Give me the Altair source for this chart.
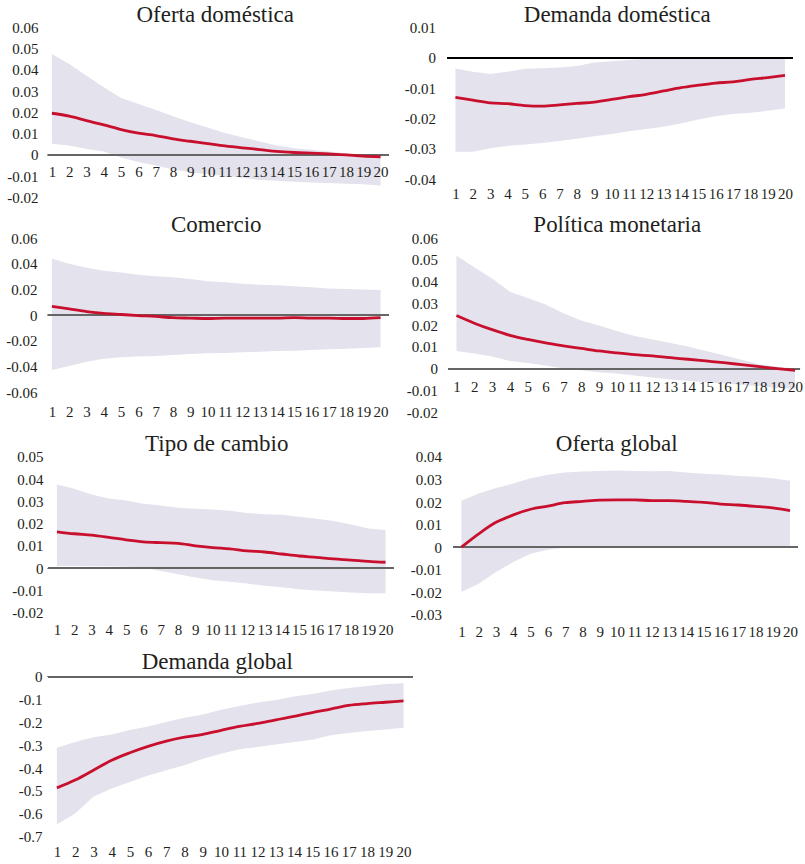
import altair as alt
import pandas as pd

periods = list(range(1, 21))

# Oferta doméstica
od_mid = [0.0196, 0.0182, 0.0161, 0.0141, 0.0119, 0.0102, 0.0091, 0.0075, 0.0064, 0.0053,
          0.0042, 0.0033, 0.0025, 0.0016, 0.0011, 0.0008, 0.0005, 0.0000, -0.0006, -0.0009]
od_up = [0.0475, 0.0428, 0.0373, 0.0318, 0.0268, 0.0240, 0.0212, 0.0182, 0.0154, 0.0129,
         0.0103, 0.0083, 0.0063, 0.0044, 0.0031, 0.0024, 0.0016, 0.0008, 0.0000, -0.0006]
od_low = [0.0052, 0.0044, 0.0028, 0.0016, -0.0013, -0.0034, -0.0050, -0.0069, -0.0082, -0.0091,
          -0.0100, -0.0108, -0.0118, -0.0122, -0.0127, -0.0130, -0.0133, -0.0136, -0.0139, -0.0144]

# Demanda doméstica
dd_mid = [-0.0130, -0.0139, -0.0148, -0.0151, -0.0157, -0.0159, -0.0155, -0.0150, -0.0146, -0.0137,
          -0.0128, -0.0120, -0.0109, -0.0098, -0.0090, -0.0083, -0.0079, -0.0071, -0.0065, -0.0058]
dd_up = [-0.0035, -0.0046, -0.0053, -0.0046, -0.0036, -0.0034, -0.0032, -0.0027, -0.0015, -0.0011,
         -0.0007, -0.0003, -0.0002, -0.0001, -0.0001, -0.0001, -0.0001, -0.0001, -0.0001, -0.0001]
dd_low = [-0.0309, -0.0309, -0.0298, -0.0290, -0.0285, -0.0280, -0.0274, -0.0266, -0.0258, -0.0251,
          -0.0242, -0.0234, -0.0227, -0.0216, -0.0203, -0.0192, -0.0185, -0.0181, -0.0174, -0.0167]

# Comercio
co_mid = [0.0069, 0.0049, 0.0028, 0.0013, 0.0005, -0.0003, -0.0010, -0.0020, -0.0023, -0.0026,
          -0.0023, -0.0023, -0.0023, -0.0023, -0.0020, -0.0023, -0.0023, -0.0026, -0.0026, -0.0020]
co_up = [0.0440, 0.0400, 0.0370, 0.0346, 0.0333, 0.0315, 0.0303, 0.0295, 0.0282, 0.0264,
         0.0256, 0.0244, 0.0238, 0.0233, 0.0226, 0.0218, 0.0208, 0.0203, 0.0200, 0.0197]
co_low = [-0.0428, -0.0397, -0.0364, -0.0341, -0.0328, -0.0323, -0.0318, -0.0310, -0.0303, -0.0297,
          -0.0295, -0.0290, -0.0285, -0.0280, -0.0277, -0.0272, -0.0267, -0.0262, -0.0256, -0.0251]

# Política monetaria
pm_mid = [0.0244, 0.0209, 0.0179, 0.0153, 0.0134, 0.0118, 0.0105, 0.0093, 0.0081, 0.0072,
          0.0064, 0.0058, 0.0050, 0.0043, 0.0035, 0.0027, 0.0018, 0.0009, 0.0000, -0.0008]
pm_up = [0.0519, 0.0466, 0.0415, 0.0354, 0.0325, 0.0295, 0.0255, 0.0221, 0.0198, 0.0173,
         0.0150, 0.0134, 0.0118, 0.0102, 0.0081, 0.0061, 0.0041, 0.0020, 0.0008, 0.0000]
pm_low = [0.0081, 0.0069, 0.0056, 0.0035, 0.0026, 0.0014, 0.0000, -0.0008, -0.0017, -0.0023,
          -0.0032, -0.0041, -0.0050, -0.0056, -0.0064, -0.0069, -0.0075, -0.0081, -0.0089, -0.0093]

# Tipo de cambio
tc_mid = [0.0164, 0.0155, 0.0149, 0.0139, 0.0128, 0.0119, 0.0115, 0.0112, 0.0101, 0.0093,
          0.0087, 0.0078, 0.0073, 0.0064, 0.0055, 0.0049, 0.0042, 0.0037, 0.0031, 0.0027]
tc_up = [0.0376, 0.0357, 0.0331, 0.0313, 0.0304, 0.0290, 0.0282, 0.0272, 0.0267, 0.0264,
         0.0258, 0.0248, 0.0243, 0.0240, 0.0231, 0.0222, 0.0212, 0.0197, 0.0179, 0.0172]
tc_low = [0.0010, 0.0010, 0.0009, 0.0009, 0.0007, 0.0003, -0.0012, -0.0027, -0.0042, -0.0054,
          -0.0061, -0.0069, -0.0079, -0.0085, -0.0094, -0.0100, -0.0104, -0.0109, -0.0112, -0.0112]

# Oferta global
og_mid = [0.0000, 0.0059, 0.0110, 0.0143, 0.0168, 0.0182, 0.0197, 0.0203, 0.0209, 0.0210,
          0.0210, 0.0206, 0.0206, 0.0203, 0.0199, 0.0191, 0.0187, 0.0181, 0.0174, 0.0162]
og_up = [0.0206, 0.0238, 0.0262, 0.0282, 0.0306, 0.0321, 0.0331, 0.0335, 0.0338, 0.0340,
         0.0338, 0.0337, 0.0338, 0.0331, 0.0326, 0.0322, 0.0316, 0.0312, 0.0306, 0.0294]
og_low = [-0.0199, -0.0162, -0.0110, -0.0066, -0.0029, -0.0012, -0.0003, 0.0000, 0.0000, 0.0000,
          0.0000, 0.0000, 0.0000, 0.0000, 0.0000, 0.0000, 0.0000, 0.0000, 0.0000, 0.0000]

# Demanda global
dg_mid = [-0.487, -0.453, -0.410, -0.366, -0.333, -0.305, -0.282, -0.265, -0.253, -0.235,
          -0.218, -0.205, -0.189, -0.174, -0.157, -0.142, -0.126, -0.118, -0.112, -0.106]
dg_up = [-0.311, -0.286, -0.265, -0.253, -0.233, -0.218, -0.199, -0.180, -0.166, -0.145,
         -0.128, -0.113, -0.102, -0.087, -0.076, -0.061, -0.049, -0.041, -0.032, -0.029]
dg_low = [-0.647, -0.599, -0.526, -0.490, -0.461, -0.433, -0.410, -0.388, -0.359, -0.337,
          -0.318, -0.308, -0.297, -0.286, -0.276, -0.257, -0.247, -0.238, -0.231, -0.224]

titles = ["Oferta doméstica", "Demanda doméstica", "Comercio", "Política monetaria",
          "Tipo de cambio", "Oferta global", "Demanda global"]

FONT = "Liberation Serif"
TEXT = "#231F20"
BAND = "#E4E2EC"
RED = "#C8102E"


def ticks(lo, hi, step, n):
    return [round(lo + i * step, 4) for i in range(n)]


def panel(title, mid, low, up, ydom, yvals, decimals, width, height, xdom,
          xoffset, ypad, yext, zero_color, title_dx, title_offset=-6):
    df = pd.DataFrame({"periodo": periods, "irf": mid, "inf": low, "sup": up})
    label_expr = ("datum.value == 0 ? '0' : (datum.value < 0 ? '-' : '') + "
                  "format(abs(datum.value), '.%df')" % decimals)
    xscale = alt.Scale(domain=xdom, nice=False, zero=False)
    xaxis = alt.Axis(values=periods, format="d", title=None, domain=False,
                     ticks=False, grid=False, labelFont=FONT, labelFontSize=15,
                     labelColor=TEXT, labelPadding=2, offset=xoffset,
                     labelFlush=False, labelOverlap=False, zindex=1)
    yscale = alt.Scale(domain=ydom, nice=False, zero=False)
    yaxis = alt.Axis(values=yvals, title=None, domain=False, ticks=False, grid=False,
                     labelFont=FONT, labelFontSize=15, labelColor=TEXT,
                     labelPadding=ypad, labelExpr=label_expr, minExtent=yext,
                     labelOverlap=False, labelFlush=False)
    band = alt.Chart(df).mark_area(color=BAND, opacity=1).encode(
        x=alt.X("periodo:Q", scale=xscale, axis=xaxis),
        y=alt.Y("inf:Q", scale=yscale, axis=yaxis),
        y2="sup:Q")
    zero = alt.Chart(df).mark_rule(color=zero_color, strokeWidth=1.2).encode(
        y=alt.Y(datum=0, scale=yscale, axis=yaxis))
    line = alt.Chart(df).mark_line(color=RED, strokeWidth=2.8,
                                   interpolate="monotone").encode(
        x=alt.X("periodo:Q", scale=xscale, axis=xaxis),
        y=alt.Y("irf:Q", scale=yscale, axis=yaxis))
    return alt.layer(band, zero, line).properties(
        width=width, height=height,
        title=alt.TitleParams(text=title, font=FONT, fontSize=23, fontWeight="normal",
                              color=TEXT, anchor="middle", frame="group",
                              offset=title_offset, dx=title_dx))


p1 = panel(titles[0], od_mid, od_low, od_up, [-0.02, 0.06], ticks(-0.02, 0.06, 0.01, 9), 2,
           341, 170, [0.77, 20.46], -35, 10, 46, "#666666", -3)
p2 = panel(titles[1], dd_mid, dd_low, dd_up, [-0.04, 0.01], ticks(-0.04, 0.01, 0.01, 6), 2,
           346, 152, [0.54, 20.46], 5, 12, 44, "#000000", -3)
p3 = panel(titles[2], co_mid, co_low, co_up, [-0.06, 0.06], ticks(-0.06, 0.06, 0.02, 7), 2,
           341, 154, [0.77, 20.46], 10, 11, 46, "#666666", -2)
p4 = panel(titles[3], pm_mid, pm_low, pm_up, [-0.02, 0.06], ticks(-0.02, 0.06, 0.01, 9), 2,
           352, 174, [0.55, 20.28], -35, 11, 44, "#666666", -7)
p5 = panel(titles[4], tc_mid, tc_low, tc_up, [-0.02, 0.05], ticks(-0.02, 0.05, 0.01, 8), 2,
           346, 156, [0.48, 20.46], 8, 5, 41, "#666666", -4)
p6 = panel(titles[5], og_mid, og_low, og_up, [-0.03, 0.04], ticks(-0.03, 0.04, 0.01, 8), 2,
           345, 158, [0.54, 20.46], 8, 12, 44, "#666666", -9)
p7 = panel(titles[6], dg_mid, dg_low, dg_up, [-0.7, 0.0], ticks(-0.7, 0.0, 0.1, 8), 1,
           365, 160, [0.51, 20.49], 6, 6, 41, "#666666", -13, -4)

row1 = alt.hconcat(p1, p2, spacing=14)
row2 = alt.hconcat(p3, p4, spacing=15)
row3 = alt.hconcat(p5, p6, spacing=15)

chart = alt.vconcat(
    alt.vconcat(row1, row2, spacing=9),
    alt.vconcat(row3, p7, spacing=11),
    spacing=13,
).properties(
    padding={"left": 2, "top": 3, "right": 2, "bottom": 2},
    background="white",
).configure_view(strokeWidth=0).configure_axis(labelOverlap=False, labelFlush=False)

chart.save("out.html", embed_options={"renderer": "svg", "actions": False})
